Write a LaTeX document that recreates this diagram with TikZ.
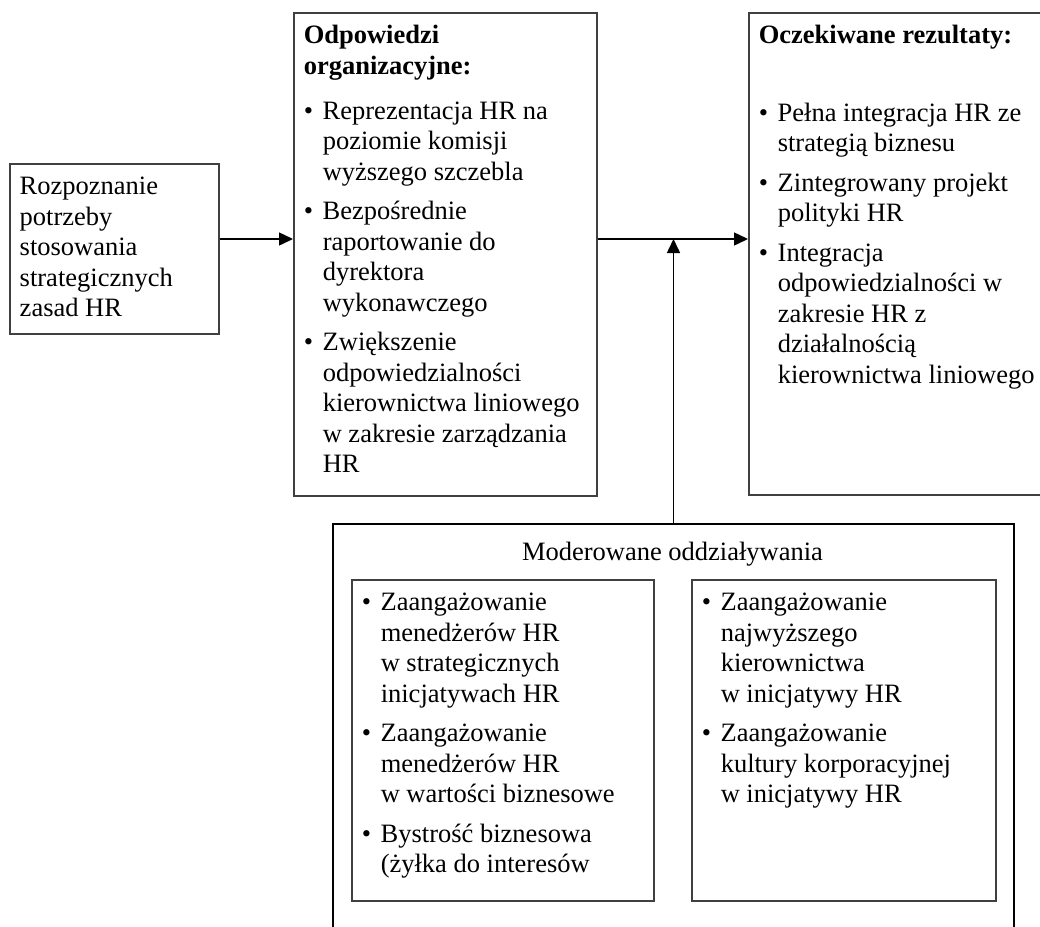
\documentclass[tikz,border=0pt]{standalone}
\usepackage{fontspec}
\setmainfont{Liberation Serif}
\usetikzlibrary{arrows.meta}
\newcommand{\pkt}[1]{\hangindent=9.5pt\hangafter=1\noindent\makebox[9.5pt][l]{\textbullet}#1\par\vspace{4.5pt}}
\newcommand{\wnetrze}[3]{\parbox[t][#2][t]{#1}{\strut#3}}
\begin{document}
\begin{tikzpicture}[x=0.5pt,y=-0.5pt,
    font=\fontsize{13.25}{15.25}\selectfont,
    ramka/.style={draw=black!75, line width=0.75pt, inner xsep=5pt, inner ysep=4.8pt, anchor=north west},
    strz/.style={-{Triangle[length=7pt,width=6.5pt]}, line width=0.75pt}]
  \useasboundingbox (0,0) rectangle (1040,927);
  \node[ramka] (lbox) at (9,163) {\wnetrze{94.5pt}{75.4pt}{Rozpoznanie\\potrzeby\\stosowania\\strategicznych\\zasad HR}};
  \node[ramka] (odp) at (293,12) {\wnetrze{141.5pt}{231.9pt}{\textbf{Odpowiedzi\\organizacyjne:}\par\vspace{7.25pt}
    \pkt{Reprezentacja HR na\\poziomie komisji\\wyższego szczebla}
    \pkt{Bezpośrednie\\raportowanie do\\dyrektora\\wykonawczego}
    \pkt{Zwiększenie\\odpowiedzialności\\kierownictwa liniowego\\w zakresie zarządzania\\HR}}};
  \node[ramka] (rez) at (748,12) {\wnetrze{138pt}{231.4pt}{\textbf{Oczekiwane rezultaty:}\par\vspace{23.5pt}
    \pkt{Pełna integracja HR ze\\strategią biznesu}
    \pkt{Zintegrowany projekt\\polityki HR}
    \pkt{Integracja\\odpowiedzialności w\\zakresie HR z\\działalnością\\kierownictwa liniowego}}};
  \node[draw, line width=1pt, inner sep=0pt, minimum width=340.5pt, minimum height=218.5pt, anchor=north west] (mod) at (332,523) {};
  \node (modt) at (672.5,554) {Moderowane oddziaływania};
  \node[ramka] (modl) at (351,579) {\wnetrze{141pt}{150.9pt}{%
    \pkt{Zaangażowanie\\menedżerów HR\\w strategicznych\\inicjatywach HR}
    \pkt{Zaangażowanie\\menedżerów HR\\w wartości biznesowe}
    \pkt{Bystrość biznesowa\\(żyłka do interesów}}};
  \node[ramka] (modp) at (691,579) {\wnetrze{142pt}{150.9pt}{%
    \pkt{Zaangażowanie\\najwyższego\\kierownictwa\\w inicjatywy HR}
    \pkt{Zaangażowanie\\kultury korporacyjnej\\w inicjatywy HR}}};
  \coordinate (poziom) at (0,239);
  \draw[strz] (lbox.east |- poziom) -- (odp.west |- poziom);
  \draw[strz] (odp.east |- poziom) -- (rez.west |- poziom);
  \draw[strz] (mod.north) -- (mod.north |- poziom);
\end{tikzpicture}
\end{document}
